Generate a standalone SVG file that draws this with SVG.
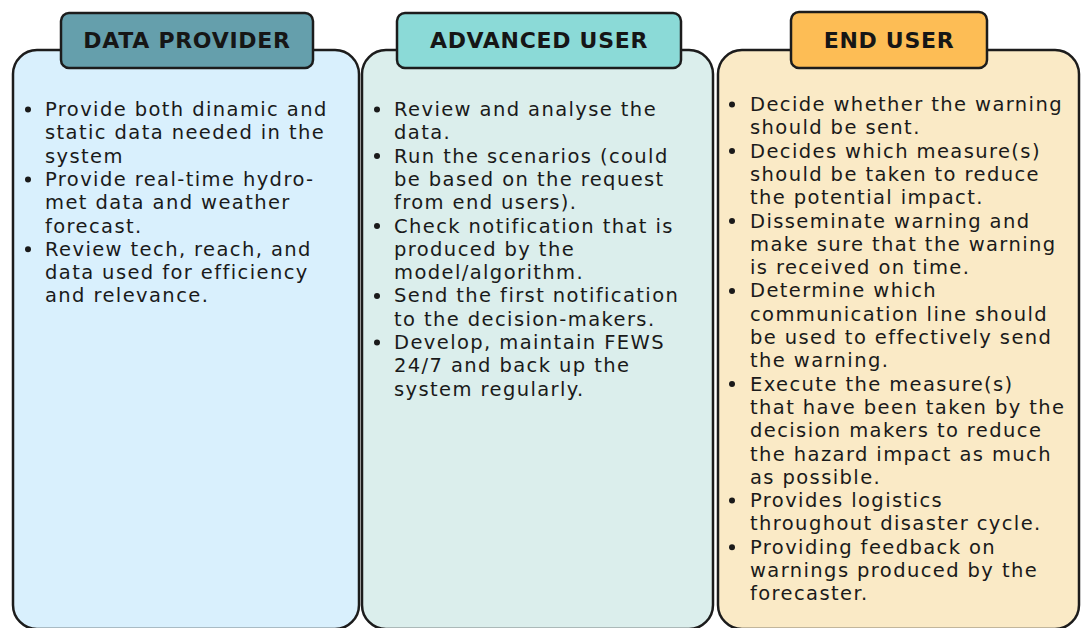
<svg xmlns="http://www.w3.org/2000/svg" width="1085" height="628" viewBox="0 0 1085 628">
<style>
.box{stroke:#1c1c1c;stroke-width:2.5}
.hdr{stroke:#1c1c1c;stroke-width:2.5}
.ht{font-family:"DejaVu Sans",Verdana,sans-serif;font-weight:bold;font-size:22px;letter-spacing:0.7px;fill:#161616;text-anchor:middle}
.bt{font-family:"DejaVu Sans",Verdana,sans-serif;font-size:19.5px;letter-spacing:1.4px;fill:#1a1a1a}
.dot{fill:#1a1a1a}
</style>
<rect width="1085" height="628" fill="#ffffff"/>
<g id="data-provider">
<rect class="box" x="13" y="50" width="346" height="579" rx="24" fill="#d9f0fd"/>
<rect class="hdr" x="61" y="13" width="252" height="55" rx="8" fill="#659fac"/>
<text class="ht" x="187" y="48">DATA PROVIDER</text>
<circle class="dot" cx="28" cy="109.5" r="3"/>
<circle class="dot" cx="28" cy="179.4" r="3"/>
<circle class="dot" cx="28" cy="249.3" r="3"/>
<text class="bt">
<tspan x="45" y="116">Provide both dinamic and</tspan>
<tspan x="45" y="139.3">static data needed in the</tspan>
<tspan x="45" y="162.6">system</tspan>
<tspan x="45" y="185.9">Provide real-time hydro-</tspan>
<tspan x="45" y="209.2">met data and weather</tspan>
<tspan x="45" y="232.5">forecast.</tspan>
<tspan x="45" y="255.8">Review tech, reach, and</tspan>
<tspan x="45" y="279.1">data used for efficiency</tspan>
<tspan x="45" y="302.4">and relevance.</tspan>
</text>
</g>
<g id="advanced-user">
<rect class="box" x="362" y="50" width="351" height="579" rx="24" fill="#dbeeec"/>
<rect class="hdr" x="397" y="13" width="284" height="55" rx="8" fill="#8bdad7"/>
<text class="ht" x="539" y="48">ADVANCED USER</text>
<circle class="dot" cx="377" cy="109.5" r="3"/>
<circle class="dot" cx="377" cy="156.1" r="3"/>
<circle class="dot" cx="377" cy="226" r="3"/>
<circle class="dot" cx="377" cy="295.9" r="3"/>
<circle class="dot" cx="377" cy="342.5" r="3"/>
<text class="bt">
<tspan x="394" y="116">Review and analyse the</tspan>
<tspan x="394" y="139.3">data.</tspan>
<tspan x="394" y="162.6">Run the scenarios (could</tspan>
<tspan x="394" y="185.9">be based on the request</tspan>
<tspan x="394" y="209.2">from end users).</tspan>
<tspan x="394" y="232.5">Check notification that is</tspan>
<tspan x="394" y="255.8">produced by the</tspan>
<tspan x="394" y="279.1">model/algorithm.</tspan>
<tspan x="394" y="302.4">Send the first notification</tspan>
<tspan x="394" y="325.7">to the decision-makers.</tspan>
<tspan x="394" y="349">Develop, maintain FEWS</tspan>
<tspan x="394" y="372.3">24/7 and back up the</tspan>
<tspan x="394" y="395.6">system regularly.</tspan>
</text>
</g>
<g id="end-user">
<rect class="box" x="718" y="50" width="361" height="579" rx="24" fill="#faeac6"/>
<rect class="hdr" x="791" y="12" width="196" height="56" rx="8" fill="#fdbd55"/>
<text class="ht" x="889" y="48">END USER</text>
<circle class="dot" cx="732" cy="104.5" r="3"/>
<circle class="dot" cx="732" cy="151.1" r="3"/>
<circle class="dot" cx="732" cy="221" r="3"/>
<circle class="dot" cx="732" cy="290.9" r="3"/>
<circle class="dot" cx="732" cy="384.1" r="3"/>
<circle class="dot" cx="732" cy="500.6" r="3"/>
<circle class="dot" cx="732" cy="547.2" r="3"/>
<text class="bt">
<tspan x="750" y="111">Decide whether the warning</tspan>
<tspan x="750" y="134.3">should be sent.</tspan>
<tspan x="750" y="157.6">Decides which measure(s)</tspan>
<tspan x="750" y="180.9">should be taken to reduce</tspan>
<tspan x="750" y="204.2">the potential impact.</tspan>
<tspan x="750" y="227.5">Disseminate warning and</tspan>
<tspan x="750" y="250.8">make sure that the warning</tspan>
<tspan x="750" y="274.1">is received on time.</tspan>
<tspan x="750" y="297.4">Determine which</tspan>
<tspan x="750" y="320.7">communication line should</tspan>
<tspan x="750" y="344">be used to effectively send</tspan>
<tspan x="750" y="367.3">the warning.</tspan>
<tspan x="750" y="390.6">Execute the measure(s)</tspan>
<tspan x="750" y="413.9">that have been taken by the</tspan>
<tspan x="750" y="437.2">decision makers to reduce</tspan>
<tspan x="750" y="460.5">the hazard impact as much</tspan>
<tspan x="750" y="483.8">as possible.</tspan>
<tspan x="750" y="507.1">Provides logistics</tspan>
<tspan x="750" y="530.4">throughout disaster cycle.</tspan>
<tspan x="750" y="553.7">Providing feedback on</tspan>
<tspan x="750" y="577">warnings produced by the</tspan>
<tspan x="750" y="600.3">forecaster.</tspan>
</text>
</g>
<g id="connectors"/>
</svg>
